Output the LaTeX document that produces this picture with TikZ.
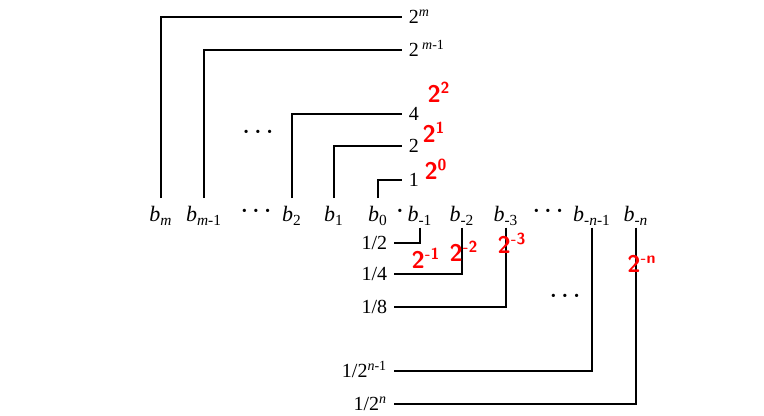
\documentclass[tikz,border=0pt]{standalone}
\usepackage{amsmath,amssymb}
\usepackage{xcolor}
\usepackage{fontspec}
\setmainfont{Liberation Serif}
\usepackage{tikz}

\begin{document}
\begin{tikzpicture}[
        x=0.5pt, y=-0.5pt,
        line width=0.8pt,
        bit/.style={anchor=base, font=\fontsize{11}{13}\selectfont, inner xsep=1pt, inner ysep=1pt, text height=2.3ex, text depth=.3ex},
        weight/.style={anchor=west, inner xsep=3pt, inner ysep=0pt, text height=1.5ex, text depth=0pt},
        frac/.style={anchor=east, inner xsep=3pt, inner ysep=0pt, text height=1.5ex, text depth=0pt},
        gap/.style={font=\bfseries, inner sep=0pt},
        note/.style={red, font=\sffamily\bfseries\large, inner sep=0pt},
        ]
        \useasboundingbox (0,0) rectangle (764,416);

        \node[bit] (bm)  at (161,222) {\textit{b}\textsubscript{\textit{m}}};
        \node[bit] (bm1) at (204,222) {\textit{b}\textsubscript{\textit{m}-1}};
        \node[gap] (dotsA) at (256,213) {· · ·};
        \node[bit] (b2)  at (292,222) {\textit{b}\textsubscript{2}};
        \node[bit] (b1)  at (334,222) {\textit{b}\textsubscript{1}};
        \node[bit] (b0)  at (378,222) {\textit{b}\textsubscript{0}};
        \node[gap] (point) at (400,213) {·};
        \node[bit] (c1)  at (420,222) {\textit{b}\textsubscript{-1}};
        \node[bit] (c2)  at (462,222) {\textit{b}\textsubscript{-2}};
        \node[bit] (c3)  at (506,222) {\textit{b}\textsubscript{-3}};
        \node[gap] (dotsB) at (548,213) {· · ·};
        \node[bit] (cn1) at (592,222) {\textit{b}\textsubscript{-\textit{n}-1}};
        \node[bit] (cn)  at (636,222) {\textit{b}\textsubscript{-\textit{n}}};

        \node[weight] (wm)  at (402,17)  {2\textsuperscript{\textit{m}}};
        \node[weight] (wm1) at (402,50)  {2\,\textsuperscript{\textit{m}-1}};
        \node[weight] (w2)  at (402,114) {4};
        \node[weight] (w1)  at (402,146) {2};
        \node[weight] (w0)  at (402,180) {1};
        \node[gap] (dotsC) at (258,134) {· · ·};

        \node[frac] (f1)  at (394,243) {1/2};
        \node[frac] (f2)  at (394,274) {1/4};
        \node[frac] (f3)  at (394,307) {1/8};
        \node[frac] (fn1) at (394,371) {1/2\textsuperscript{\textit{n}-1}};
        \node[frac] (fn)  at (394,404) {1/2\textsuperscript{\textit{n}}};
        \node[gap] (dotsD) at (565,298) {· · ·};

        \draw (bm.north)  |- (wm.west);
        \draw (bm1.north) |- (wm1.west);
        \draw (b2.north)  |- (w2.west);
        \draw (b1.north)  |- (w1.west);
        \draw (b0.north)  |- (w0.west);

        \draw (c1.south)  |- (f1.east);
        \draw (c2.south)  |- (f2.east);
        \draw (c3.south)  |- (f3.east);
        \draw (cn1.south) |- (fn1.east);
        \draw (cn.south)  |- (fn.east);

        \node[note] (n2)  at (439,92)  {2\textsuperscript{2}};
        \node[note] (n1)  at (434,132) {2\textsuperscript{1}};
        \node[note] (n0)  at (436,169) {2\textsuperscript{0}};
        \node[note] (m1)  at (426,258) {2\textsuperscript{-1}};
        \node[note] (m2)  at (464,251) {2\textsuperscript{-2}};
        \node[note] (m3)  at (512,243) {2\textsuperscript{-3}};
        \node[note] (mn)  at (642,264) {2\textsuperscript{-n}};
    \end{tikzpicture}
\end{document}
